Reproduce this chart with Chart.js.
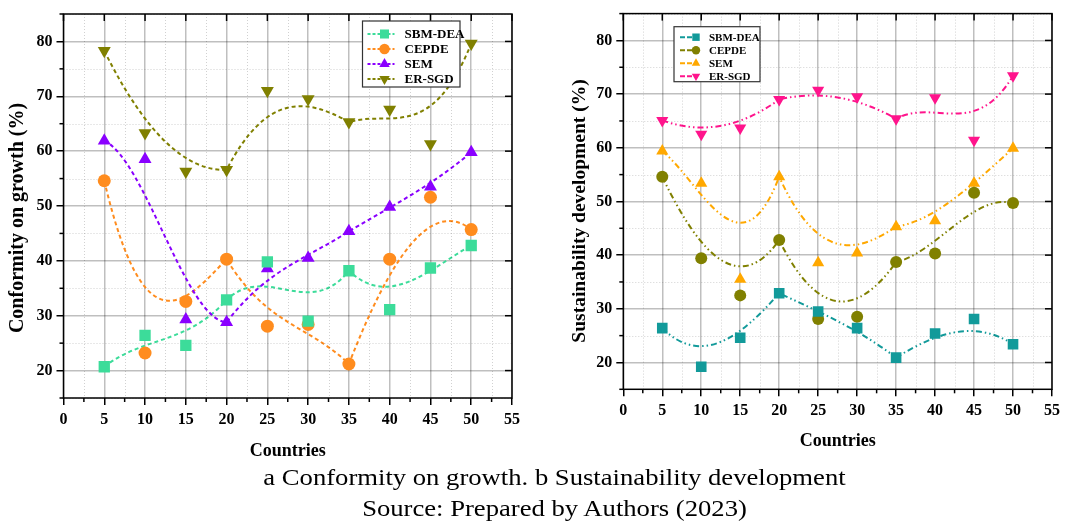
<!DOCTYPE html>
<html lang="en">
<head>
  <meta charset="UTF-8" />
  <title>Conformity on growth / Sustainability development</title>
  <script src="https://cdn.jsdelivr.net/npm/chart.js"></script>
  <style>
    * { box-sizing: border-box; }
    body { margin: 0; width: 1091px; height: 525px; background: #fff; position: relative; overflow: hidden; }
    .panel { position: absolute; top: 0; }
    #leftPanel { left: 0; }
    #rightPanel { left: 545px; }
    .caption {
      position: absolute; left: 9px; width: 1091px; text-align: center;
      font-family: 'Liberation Serif', 'Times New Roman', serif; font-size: 24px; color: #000;
      transform: scaleX(1.11); transform-origin: 545.5px 0;
    }
  </style>
</head>
<body>
  <div class="panel" id="leftPanel"><canvas id="growthChart" width="545" height="470"></canvas></div>
  <div class="panel" id="rightPanel"><canvas id="sustChart" width="546" height="470"></canvas></div>
  <div class="caption" style="top:464px">a Conformity on growth. b Sustainability development</div>
  <div class="caption" style="top:495px">Source: Prepared by Authors (2023)</div>

  <script>
    // x positions (countries)
    const countries = [5, 10, 15, 20, 25, 30, 35, 40, 45, 50];
    const seriesNames = ['SBM-DEA', 'CEPDE', 'SEM', 'ER-SGD'];

    // (a) Conformity on growth (%)
    const growthSBM   = [20.7, 26.4, 24.6, 32.9, 39.8, 29.0, 38.2, 31.1, 38.7, 42.8];
    const growthCEPDE = [54.6, 23.2, 32.6, 40.3, 28.1, 28.4, 21.2, 40.3, 51.6, 45.7];
    const growthSEM   = [61.9, 58.5, 29.3, 28.8, 38.6, 40.5, 45.4, 49.8, 53.5, 59.8];
    const growthERSGD = [78.3, 63.3, 56.3, 56.6, 71.0, 69.5, 65.3, 67.6, 61.3, 79.6];

    // (b) Sustainability development (%)
    const sustSBM   = [26.4, 19.2, 24.6, 32.9, 29.5, 26.4, 20.9, 25.4, 28.1, 23.4];
    const sustCEPDE = [54.6, 39.4, 32.5, 42.8, 28.1, 28.5, 38.7, 40.3, 51.6, 49.7];
    const sustSEM   = [59.4, 53.4, 35.5, 54.6, 38.6, 40.4, 45.3, 46.4, 53.4, 59.9];
    const sustERSGD = [65.1, 62.5, 63.7, 69.0, 70.7, 69.5, 65.4, 69.3, 61.4, 73.4];

    const serif = "'Liberation Serif', 'Times New Roman', serif";
    const majorGrid = 'rgba(0,0,0,0.25)';
    const minorGrid = 'rgba(0,0,0,0.18)';

    function pts(values) {
      return countries.map((c, i) => ({ x: c, y: values[i] }));
    }

    // Origin-style bezier: every 3rd point on the curve, others are control points
    const bezierFit = {
      id: 'bezierFit',
      beforeDatasetsDraw(chart, args, opts) {
        const ctx = chart.ctx;
        const area = chart.chartArea;
        ctx.save();
        ctx.beginPath();
        ctx.rect(area.left, area.top, area.right - area.left, area.bottom - area.top);
        ctx.clip();
        chart.data.datasets.forEach((ds, di) => {
          const p = chart.getDatasetMeta(di).data;
          ctx.beginPath();
          ctx.moveTo(p[0].x, p[0].y);
          for (let i = 0; i + 3 < p.length; i += 3) {
            ctx.bezierCurveTo(p[i + 1].x, p[i + 1].y, p[i + 2].x, p[i + 2].y, p[i + 3].x, p[i + 3].y);
          }
          ctx.strokeStyle = ds.backgroundColor;
          ctx.lineWidth = 2;
          ctx.setLineDash(opts.dash);
          ctx.stroke();
        });
        ctx.restore();
      }
    };

    // dotted minor grid, minor ticks, frame, inner ticks on top/right, y title
    const frame = {
      id: 'frame',
      beforeDatasetsDraw(chart, args, o) {
        const ctx = chart.ctx;
        const a = chart.chartArea;
        const xs = chart.scales.x, ys = chart.scales.y;
        ctx.save();
        ctx.lineWidth = 1;
        ctx.setLineDash([1, 2]);
        ctx.strokeStyle = minorGrid;
        xs.ticks.forEach(t => {
          if (t.value % 5 !== 0) {
            const px = Math.round(xs.getPixelForValue(t.value)) + 0.5;
            ctx.beginPath(); ctx.moveTo(px, a.top); ctx.lineTo(px, a.bottom); ctx.stroke();
          }
        });
        ys.ticks.forEach(t => {
          if (t.value % 10 !== 0) {
            const py = Math.round(ys.getPixelForValue(t.value)) + 0.5;
            ctx.beginPath(); ctx.moveTo(a.left, py); ctx.lineTo(a.right, py); ctx.stroke();
          }
        });
        ctx.setLineDash([]);
        ctx.strokeStyle = '#000';
        ctx.lineWidth = 1.5;
        ctx.strokeRect(a.left, a.top, a.right - a.left, a.bottom - a.top);
        xs.ticks.forEach(t => {
          const px = xs.getPixelForValue(t.value);
          if (t.value % 5 === 0) {
            ctx.beginPath(); ctx.moveTo(px, a.top); ctx.lineTo(px, a.top + 7); ctx.stroke();
          } else {
            ctx.beginPath(); ctx.moveTo(px, a.bottom); ctx.lineTo(px, a.bottom + 4); ctx.stroke();
          }
        });
        ys.ticks.forEach(t => {
          const py = ys.getPixelForValue(t.value);
          if (t.value % 10 === 0) {
            ctx.beginPath(); ctx.moveTo(a.right, py); ctx.lineTo(a.right - 7, py); ctx.stroke();
          } else {
            ctx.beginPath(); ctx.moveTo(a.left, py); ctx.lineTo(a.left - 4, py); ctx.stroke();
          }
        });
        // vertical axis title
        ctx.translate(o.titleX, o.titleY);
        ctx.rotate(-Math.PI / 2);
        ctx.fillStyle = '#000';
        ctx.font = 'bold ' + o.titleSize + 'px ' + serif;
        ctx.textAlign = 'center';
        ctx.textBaseline = 'middle';
        ctx.fillText(o.title, 0, 0);
        ctx.restore();
      }
    };

    // legend with line-symbol-line sample
    const boxLegend = {
      id: 'boxLegend',
      afterDraw(chart, args, o) {
        const ctx = chart.ctx;
        ctx.save();
        ctx.fillStyle = '#fff';
        ctx.fillRect(o.x, o.y, o.w, o.h);
        ctx.strokeStyle = '#333';
        ctx.lineWidth = 1.2;
        ctx.strokeRect(o.x, o.y, o.w, o.h);
        chart.data.datasets.forEach((ds, i) => {
          const cy = o.y + o.first + i * o.gap;
          ctx.strokeStyle = ds.backgroundColor;
          ctx.lineWidth = 2;
          ctx.setLineDash(o.dash);
          ctx.beginPath();
          ctx.moveTo(o.x + o.lineFrom, cy);
          ctx.lineTo(o.x + o.lineTo, cy);
          ctx.stroke();
          ctx.setLineDash([]);
          ctx.fillStyle = ds.backgroundColor;
          Chart.helpers.drawPoint(ctx, {
            pointStyle: ds.pointStyle,
            rotation: ds.pointRotation || 0,
            radius: ds.pointRadius * o.markScale,
            borderWidth: 0
          }, o.x + o.mark, cy);
          ctx.fillStyle = '#000';
          ctx.font = 'bold ' + o.fontSize + 'px ' + serif;
          ctx.textBaseline = 'middle';
          ctx.fillText(ds.label, o.x + o.text, cy + 1);
        });
        ctx.restore();
      }
    };

    function makeDatasets(values, colors, radii) {
      const styles = ['rect', 'circle', 'triangle', 'triangle'];
      return values.map((v, i) => ({
        label: seriesNames[i],
        data: pts(v),
        backgroundColor: colors[i],
        borderColor: colors[i],
        borderWidth: 0,
        pointStyle: styles[i],
        pointRotation: i === 3 ? 180 : 0,
        pointRadius: radii[i],
        pointHoverRadius: radii[i],
        showLine: false
      }));
    }

    function makeScales(yWidth, xHeight, xTitlePad) {
      const tickFont = { family: serif, size: 16, weight: 'bold' };
      return {
        x: {
          type: 'linear', min: 0, max: 55,
          ticks: {
            stepSize: 2.5, autoSkip: false, maxRotation: 0, padding: 5,
            color: '#000', font: tickFont,
            callback: v => (v % 5 === 0 ? v : '')
          },
          grid: {
            color: c => (c.tick && c.tick.value % 5 === 0 ? majorGrid : 'rgba(0,0,0,0)'),
            tickColor: c => (c.tick && c.tick.value % 5 === 0 ? '#000' : 'rgba(0,0,0,0)'),
            lineWidth: 1.5, tickLength: 7, tickWidth: 1.5
          },
          border: { display: false },
          title: {
            display: true, text: 'Countries', color: '#000',
            font: { family: serif, size: 18, weight: 'bold' }, padding: xTitlePad
          },
          afterFit: s => { s.height = xHeight; }
        },
        y: {
          type: 'linear', min: 15, max: 85,
          ticks: {
            stepSize: 5, autoSkip: false, padding: 4,
            color: '#000', font: tickFont,
            callback: v => (v % 10 === 0 ? v : '')
          },
          grid: {
            color: c => (c.tick && c.tick.value % 10 === 0 ? majorGrid : 'rgba(0,0,0,0)'),
            tickColor: c => (c.tick && c.tick.value % 10 === 0 ? '#000' : 'rgba(0,0,0,0)'),
            lineWidth: 1.5, tickLength: 7, tickWidth: 1.5
          },
          border: { display: false },
          afterFit: s => { s.width = yWidth; }
        }
      };
    }

    new Chart(document.getElementById('growthChart'), {
      type: 'scatter',
      data: {
        datasets: makeDatasets(
          [growthSBM, growthCEPDE, growthSEM, growthERSGD],
          ['#3cdc9a', '#ff8c1e', '#8a00ff', '#808000'],
          [8, 6.5, 7.5, 7.5]
        )
      },
      options: {
        responsive: false,
        devicePixelRatio: 1,
        animation: false,
        layout: { padding: { left: 0, top: 14, right: 33, bottom: 0 } },
        scales: makeScales(63.5, 72, { top: 0, bottom: 8 }),
        plugins: {
          legend: { display: false },
          tooltip: { enabled: false },
          bezierFit: { dash: [4, 3] },
          frame: { title: 'Conformity on growth (%)', titleSize: 20, titleX: 18, titleY: 218 },
          boxLegend: {
            x: 362.5, y: 21, w: 97.5, h: 66, first: 13, gap: 15,
            lineFrom: 5, lineTo: 32, mark: 22, text: 42, fontSize: 13,
            dash: [3, 2], markScale: 0.8
          }
        }
      },
      plugins: [bezierFit, frame, boxLegend]
    });

    new Chart(document.getElementById('sustChart'), {
      type: 'scatter',
      data: {
        datasets: makeDatasets(
          [sustSBM, sustCEPDE, sustSEM, sustERSGD],
          ['#129a9a', '#808000', '#ffa800', '#ff148c'],
          [7.5, 6, 7, 7]
        )
      },
      options: {
        responsive: false,
        devicePixelRatio: 1,
        animation: false,
        layout: { padding: { left: 0, top: 9.3, right: 39, bottom: 0 } },
        scales: makeScales(78.3, 80.7, { top: 0, bottom: 18 }),
        plugins: {
          legend: { display: false },
          tooltip: { enabled: false },
          bezierFit: { dash: [6, 3, 1.5, 3, 1.5, 3] },
          frame: { title: 'Sustainability development (%)', titleSize: 19.5, titleX: 34.5, titleY: 211 },
          boxLegend: {
            x: 129, y: 26.7, w: 86, h: 55, first: 10.5, gap: 13,
            lineFrom: 6, lineTo: 22, mark: 22, text: 35, fontSize: 11,
            dash: [5, 2], markScale: 0.7
          }
        }
      },
      plugins: [bezierFit, frame, boxLegend]
    });
  </script>
</body>
</html>
